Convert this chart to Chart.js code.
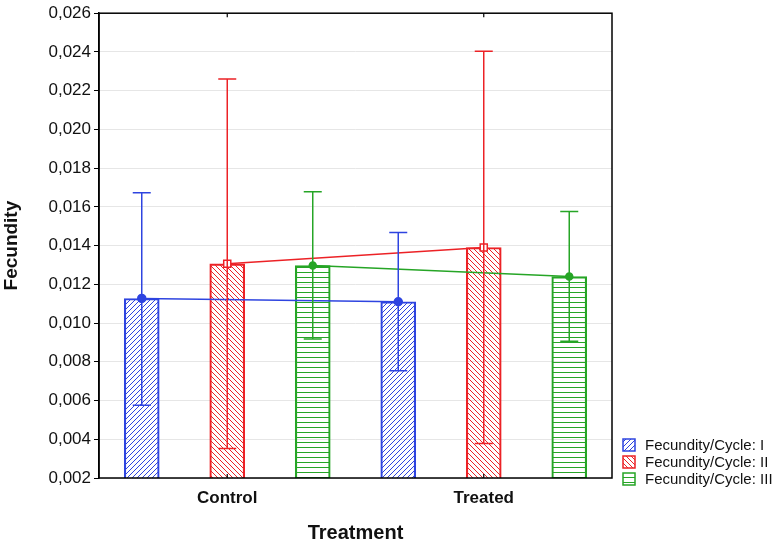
<!DOCTYPE html>
<html>
<head>
<meta charset="utf-8">
<script src="https://cdn.jsdelivr.net/npm/chart.js@4/dist/chart.umd.min.js"></script>
<style>
html,body{margin:0;padding:0;background:#fff;}
#wrap{width:780px;height:545px;position:relative;}
</style>
</head>
<body>
<div id="wrap"><canvas id="c" width="780" height="545"></canvas></div>
<script>
// ---- data ----
const categories = ["Control", "Treated"];
const seriesLabels = ["Fecundity/Cycle: I", "Fecundity/Cycle: II", "Fecundity/Cycle: III"];
const meansI   = [0.01127, 0.01110];
const meansII  = [0.01306, 0.01390];
const meansIII = [0.01297, 0.01240];
const lowI   = [0.00576, 0.00754];
const highI  = [0.01673, 0.01467];
const lowII  = [0.00352, 0.00378];
const highII = [0.02260, 0.02404];
const lowIII  = [0.00918, 0.00906];
const highIII = [0.01678, 0.01576];
const yTicksMin = 0.002, yTicksMax = 0.026, yStep = 0.002;

// ---- styles ----
const colors = ["#2e44e0", "#ec2226", "#26a526"];
const hatchTypes = ["fwd", "back", "horiz"];

function makePattern(color, type) {
  const s = 5;
  const cv = document.createElement("canvas");
  cv.width = s; cv.height = s;
  const g = cv.getContext("2d");
  g.strokeStyle = color;
  g.lineWidth = 1;
  g.beginPath();
  if (type === "fwd") {
    g.moveTo(0, s); g.lineTo(s, 0);
    g.moveTo(-1, 1); g.lineTo(1, -1);
    g.moveTo(s - 1, s + 1); g.lineTo(s + 1, s - 1);
  } else if (type === "back") {
    g.moveTo(0, 0); g.lineTo(s, s);
    g.moveTo(-1, s - 1); g.lineTo(1, s + 1);
    g.moveTo(s - 1, -1); g.lineTo(s + 1, 1);
  } else {
    g.moveTo(0, 2.5); g.lineTo(s, 2.5);
  }
  g.stroke();
  return g.createPattern(cv, "repeat");
}
const patterns = colors.map((c, i) => makePattern(c, hatchTypes[i]));

const meansAll = [meansI, meansII, meansIII];
const lowsAll = [lowI, lowII, lowIII];
const highsAll = [highI, highII, highIII];
const nSeries = meansAll.length;
// position of series s within category i on the linear x axis (category i spans [i, i+1])
const xPos = (i, s) => i + (s + 0.5) / nSeries;

const FONT = "'Liberation Sans', Arial, sans-serif";

const barDatasets = meansAll.map((m, s) => ({
  type: "bar",
  label: seriesLabels[s],
  data: m.map((v, i) => ({ x: xPos(i, s), y: v })),
  backgroundColor: patterns[s],
  borderColor: colors[s],
  borderWidth: 1.5,
  borderSkipped: false,
  grouped: false,
  barThickness: 35,
  order: 3
}));

const pointStyles = ["circle", "rect", "circle"];
const pointRadii = [4, 5, 3.5];
const pointFills = [colors[0], "#ffffff", colors[2]];
const lineDatasets = meansAll.map((m, s) => ({
  type: "line",
  label: "_line" + s,
  data: m.map((v, i) => ({ x: xPos(i, s), y: v })),
  borderColor: colors[s],
  borderWidth: 1.5,
  pointStyle: pointStyles[s],
  pointRadius: pointRadii[s],
  pointBackgroundColor: pointFills[s],
  pointBorderColor: colors[s],
  pointBorderWidth: 1.5,
  fill: false,
  tension: 0,
  order: 1
}));

// error bars plugin
const errorBars = {
  id: "errorBars",
  afterDatasetsDraw(chart) {
    const ctx = chart.ctx;
    const x = chart.scales.x;
    const y = chart.scales.y;
    const ca = chart.chartArea;
    ctx.save();
    ctx.beginPath();
    ctx.rect(ca.left, ca.top, ca.right - ca.left, ca.bottom - ca.top);
    ctx.clip();
    for (let s = 0; s < nSeries; s++) {
      categories.forEach((c, i) => {
        const px = x.getPixelForValue(xPos(i, s));
        const yl = y.getPixelForValue(lowsAll[s][i]);
        const yh = y.getPixelForValue(highsAll[s][i]);
        ctx.strokeStyle = colors[s];
        ctx.lineWidth = 1.5;
        ctx.beginPath();
        ctx.moveTo(px, yl); ctx.lineTo(px, yh);
        ctx.moveTo(px - 9, yl); ctx.lineTo(px + 9, yl);
        ctx.moveTo(px - 9, yh); ctx.lineTo(px + 9, yh);
        ctx.stroke();
      });
    }
    ctx.restore();
  }
};

// frame + x ticks + legend
const frameAndLegend = {
  id: "frameAndLegend",
  afterDraw(chart) {
    const ctx = chart.ctx;
    const ca = chart.chartArea;
    ctx.save();
    ctx.strokeStyle = "#000";
    ctx.lineWidth = 1.5;
    ctx.strokeRect(ca.left, ca.top, ca.right - ca.left, ca.bottom - ca.top);
    const xs = chart.scales.x;
    ctx.lineWidth = 1.2;
    categories.forEach((c, i) => {
      const px = xs.getPixelForValue(i + 0.5);
      ctx.beginPath();
      ctx.moveTo(px, ca.bottom); ctx.lineTo(px, ca.bottom - 4);
      ctx.moveTo(px, ca.top); ctx.lineTo(px, ca.top + 4);
      ctx.stroke();
    });
    // legend
    const lx = ca.right + 11;
    const ly0 = 445;
    const dy = 17;
    ctx.font = "15px " + FONT;
    ctx.textBaseline = "middle";
    ctx.textAlign = "left";
    seriesLabels.forEach((lab, s) => {
      const cy = ly0 + s * dy;
      ctx.fillStyle = "#fff";
      ctx.fillRect(lx, cy - 6, 12, 12);
      ctx.fillStyle = patterns[s];
      ctx.fillRect(lx, cy - 6, 12, 12);
      ctx.strokeStyle = colors[s];
      ctx.lineWidth = 1.5;
      ctx.strokeRect(lx, cy - 6, 12, 12);
      ctx.fillStyle = "#111";
      ctx.fillText(lab, lx + 22, cy + 1);
    });
    ctx.restore();
  }
};

new Chart(document.getElementById("c"), {
  type: "bar",
  data: {
    datasets: [...barDatasets, ...lineDatasets]
  },
  options: {
    responsive: false,
    animation: false,
    devicePixelRatio: 1,
    layout: { padding: { top: 9, right: 168, left: 0, bottom: 0 } },
    plugins: {
      legend: { display: false },
      tooltip: { enabled: false }
    },
    scales: {
      x: {
        type: "linear",
        min: 0,
        max: categories.length,
        offset: false,
        grid: { display: false, drawTicks: false },
        border: { display: false },
        afterBuildTicks(scale) {
          scale.ticks = categories.map((c, i) => ({ value: i + 0.5 }));
        },
        ticks: {
          color: "#111",
          font: { family: FONT, size: 17, weight: "bold" },
          padding: 10,
          autoSkip: false,
          maxRotation: 0,
          callback: (v, idx) => categories[idx]
        },
        title: {
          display: true,
          text: "Treatment",
          color: "#111",
          font: { family: FONT, size: 20, weight: "bold" },
          padding: { top: 10, bottom: 0 }
        },
        afterFit(scale) { scale.height = 67; }
      },
      y: {
        type: "linear",
        min: yTicksMin,
        max: yTicksMax,
        ticks: {
          stepSize: yStep,
          color: "#111",
          font: { family: FONT, size: 17 },
          padding: 3,
          callback: (v) => v.toFixed(3).replace(".", ",")
        },
        grid: {
          color: "#e6e6e6",
          lineWidth: 1,
          tickColor: "#000",
          tickLength: 5,
          drawTicks: true
        },
        border: { display: true, color: "#000", width: 1.5 },
        title: {
          display: true,
          text: "Fecundity",
          color: "#111",
          font: { family: FONT, size: 19, weight: "bold" },
          padding: { top: 0, bottom: 8 }
        },
        afterFit(scale) { scale.width = 99; }
      }
    }
  },
  plugins: [errorBars, frameAndLegend]
});
</script>
</body>
</html>
